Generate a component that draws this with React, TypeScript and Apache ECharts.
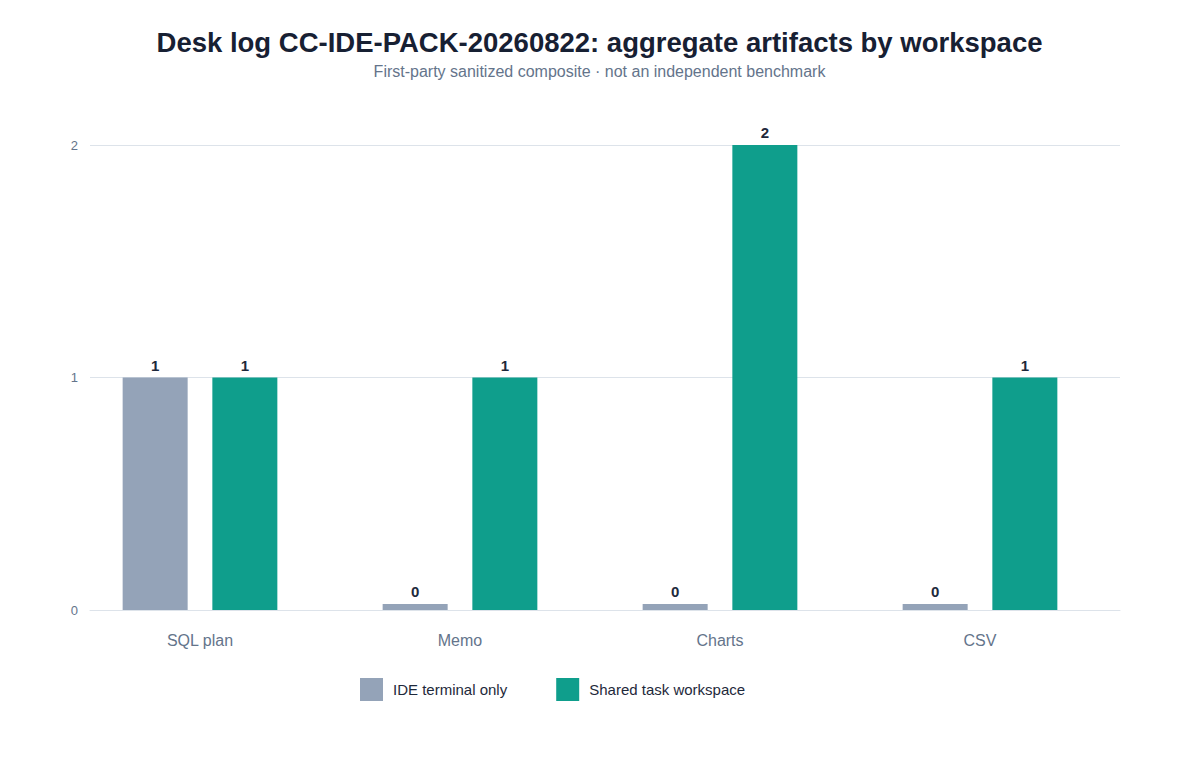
import { useEffect, useRef } from "react";
import * as echarts from "echarts";

const FONT = "'Liberation Sans', Arial, Helvetica, sans-serif";
const INK = "#1e293b";
const MUTE = "#64748b";
const LINE = "#dde3ea";

const CATEGORIES = ["SQL plan", "Memo", "Charts", "CSV"];
const IDE_ONLY = [1, 0, 0, 0];
const SHARED = [1, 1, 2, 1];
const SERIES_NAMES = ["IDE terminal only", "Shared task workspace"];
const COLORS = ["#94a3b8", "#0f9e8c"];

function buildOption() {
  const label = {
    show: true,
    position: "top" as const,
    distance: 5,
    color: INK,
    fontSize: 15,
    fontWeight: "bold" as const,
    fontFamily: FONT,
  };
  return {
    animation: false,
    textStyle: { fontFamily: FONT },
    title: {
      text: "Desk log CC-IDE-PACK-20260822: aggregate artifacts by workspace",
      subtext: "First-party sanitized composite · not an independent benchmark",
      left: "center",
      top: 23,
      itemGap: 7,
      textStyle: { color: "#172033", fontSize: 27.5, fontWeight: "bold", fontFamily: FONT },
      subtextStyle: { color: MUTE, fontSize: 16, fontFamily: FONT },
    },
    legend: {
      top: 673,
      left: 355,
      itemWidth: 23,
      itemHeight: 23,
      itemGap: 49,
      icon: "rect",
      data: SERIES_NAMES,
      textStyle: { color: INK, fontSize: 15, fontFamily: FONT, padding: [0, 0, 0, 5] },
    },
    // grid 0: gridlines + y labels; grid 1: bars + category labels
    grid: [
      { left: 90, right: 79, top: 145, bottom: 150 },
      { left: 70, right: 89, top: 145, bottom: 150 },
    ],
    xAxis: [
      {
        type: "category",
        gridIndex: 0,
        data: CATEGORIES,
        axisLine: { show: true, lineStyle: { color: LINE } },
        axisTick: { show: false },
        axisLabel: { show: false },
      },
      {
        type: "category",
        gridIndex: 1,
        data: CATEGORIES,
        axisLine: { show: false },
        axisTick: { show: false },
        axisLabel: { color: MUTE, fontSize: 16, margin: 22, fontFamily: FONT },
      },
    ],
    yAxis: [
      {
        type: "value",
        gridIndex: 0,
        min: 0,
        max: 2,
        interval: 1,
        axisLine: { show: false },
        axisTick: { show: false },
        axisLabel: { color: MUTE, fontSize: 13, margin: 12, fontFamily: FONT },
        splitLine: { lineStyle: { color: LINE } },
      },
      {
        type: "value",
        gridIndex: 1,
        min: 0,
        max: 2,
        interval: 1,
        show: false,
        splitLine: { show: false },
      },
    ],
    series: [
      {
        name: SERIES_NAMES[0],
        type: "bar",
        xAxisIndex: 1,
        yAxisIndex: 1,
        data: IDE_ONLY,
        barWidth: 65,
        barGap: "38%",
        barMinHeight: 6,
        itemStyle: { color: COLORS[0] },
        label,
      },
      {
        name: SERIES_NAMES[1],
        type: "bar",
        xAxisIndex: 1,
        yAxisIndex: 1,
        data: SHARED,
        barWidth: 65,
        barGap: "38%",
        barMinHeight: 6,
        itemStyle: { color: COLORS[1] },
        label,
      },
    ],
  };
}

export default function App() {
  const ref = useRef<HTMLDivElement>(null);

  useEffect(() => {
    if (!ref.current) return;
    const chart = echarts.init(ref.current, undefined, { renderer: "svg" });
    chart.setOption(buildOption() as any);
    return () => chart.dispose();
  }, []);

  return <div ref={ref} style={{ width: 1199, height: 760, margin: -8 }} />;
}
